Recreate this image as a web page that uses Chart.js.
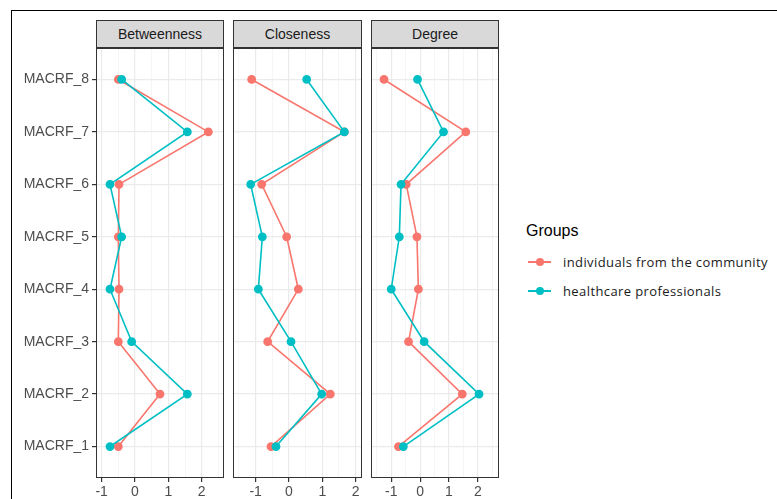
<!DOCTYPE html>
<html>
<head>
<meta charset="utf-8">
<script src="https://cdn.jsdelivr.net/npm/chart.js@4.4.1/dist/chart.umd.min.js"></script>
<style>
  body { margin: 0; background: #fff; width: 777px; height: 499px; overflow: hidden; position: relative; font-family: "Liberation Sans", Arial, sans-serif; }
  .frame { position: absolute; left: 11px; top: 10px; width: 900px; height: 700px; border-left: 1px solid #000; border-top: 1px solid #000; }
  .strip { position: absolute; top: 20px; height: 28px; background: #d9d9d9; border: 1px solid #333; box-sizing: border-box; text-align: center; line-height: 26px; font-size: 14px; color: #1a1a1a; }
  .box { position: absolute; top: 48px; height: 453px; }
  .legend { position: absolute; left: 526px; top: 222px; }
  .legend .title { font-size: 16px; color: #000; margin-bottom: 13px; }
  .legend .item { position: relative; height: 29px; line-height: 18px; font-family: "Open Sans", sans-serif; font-size: 13px; letter-spacing: 0.4px; color: #1a1a1a; padding-left: 37px; }
  .legend .key { position: absolute; left: 2px; top: 8px; width: 23px; height: 2px; }
  .legend .dot { position: absolute; left: 8px; top: -3px; width: 8px; height: 8px; border-radius: 50%; }
</style>
</head>
<body>
<div class="frame"></div>
<div id="wrap"></div>
<div class="legend" id="legend"></div>
<script>
// categories (bottom to top)
var categorias = ["MACRF_1", "MACRF_2", "MACRF_3", "MACRF_4", "MACRF_5", "MACRF_6", "MACRF_7", "MACRF_8"];
var medidas = ["Betweenness", "Closeness", "Degree"];
var grupos = ["individuals from the community", "healthcare professionals"];
var colores = ["#F8766D", "#00BFC4"];

// values per measure, MACRF_1 .. MACRF_8
var betweennessComunidad = [-0.5, 0.75, -0.5, -0.48, -0.5, -0.48, 2.2, -0.5];
var betweennessSalud     = [-0.75, 1.57, -0.1, -0.75, -0.4, -0.75, 1.57, -0.4];
var closenessComunidad   = [-0.54, 1.24, -0.64, 0.28, -0.07, -0.82, 1.66, -1.12];
var closenessSalud       = [-0.39, 0.98, 0.06, -0.92, -0.8, -1.15, 1.66, 0.53];
var degreeComunidad      = [-0.75, 1.46, -0.4, -0.06, -0.11, -0.48, 1.58, -1.25];
var degreeSalud          = [-0.58, 2.04, 0.14, -1.0, -0.72, -0.66, 0.81, -0.09];

// x axis limits per panel and tick values
var xMin = [-1.17, -1.68, -1.70];
var xMax = [2.67, 2.19, 2.73];
var xTicks = [-1.5, -1, -0.5, 0, 0.5, 1, 1.5, 2, 2.5];

var series = [
    [betweennessComunidad, betweennessSalud],
    [closenessComunidad, closenessSalud],
    [degreeComunidad, degreeSalud]
];

// panel pixel boxes
var paneles = [[96, 224], [233, 362], [371, 499]];

// panel border
var bordePanel = {
    id: 'bordePanel',
    afterDraw: function(chart) {
        var a = chart.chartArea, ctx = chart.ctx;
        ctx.save();
        ctx.strokeStyle = '#333333';
        ctx.lineWidth = 1;
        ctx.strokeRect(a.left + 0.5, a.top + 0.5, a.right - a.left - 1, a.bottom - a.top - 1);
        ctx.restore();
    }
};

function puntos(valores) {
    return valores.map(function(v, i) { return { x: v, y: i + 1 }; });
}

function crearPanel(i) {
    var primero = (i === 0);
    var padL = primero ? paneles[0][0] : 2;
    var padR = 2;
    var box = document.createElement('div');
    box.className = 'box';
    box.style.left = (paneles[i][0] - padL) + 'px';
    box.style.width = (paneles[i][1] - paneles[i][0] + padL + padR) + 'px';
    box.innerHTML = '<canvas></canvas>';
    document.getElementById('wrap').appendChild(box);

    var strip = document.createElement('div');
    strip.className = 'strip';
    strip.style.left = paneles[i][0] + 'px';
    strip.style.width = (paneles[i][1] - paneles[i][0]) + 'px';
    strip.textContent = medidas[i];
    document.body.appendChild(strip);

    var esEntero = function(v) { return Math.abs(v - Math.round(v)) < 1e-9; };

    new Chart(box.querySelector('canvas'), {
        type: 'scatter',
        data: {
            datasets: [
                { label: grupos[1], data: puntos(series[i][1]), borderColor: colores[1], backgroundColor: colores[1], showLine: true, borderWidth: 1.6, pointRadius: 3.6, pointHoverRadius: 3.6 },
                { label: grupos[0], data: puntos(series[i][0]), borderColor: colores[0], backgroundColor: colores[0], showLine: true, borderWidth: 1.6, pointRadius: 3.6, pointHoverRadius: 3.6 }
            ]
        },
        options: {
            responsive: true,
            maintainAspectRatio: false,
            animation: false,
            layout: { autoPadding: false, padding: { left: primero ? 0 : padL, right: padR, top: 0, bottom: 0 } },
            plugins: { legend: { display: false }, tooltip: { enabled: false } },
            scales: {
                x: {
                    type: 'linear',
                    min: xMin[i],
                    max: xMax[i],
                    afterBuildTicks: function(scale) {
                        scale.ticks = xTicks.filter(function(v) { return v >= xMin[i] && v <= xMax[i]; })
                            .map(function(v) { return { value: v }; });
                    },
                    afterFit: function(scale) { scale.height = 23; },
                    border: { display: false },
                    grid: {
                        color: function(c) { return esEntero(c.tick.value) ? '#ebebeb' : '#f2f2f2'; },
                        lineWidth: function(c) { return esEntero(c.tick.value) ? 1.2 : 0.8; },
                        tickColor: function(c) { return esEntero(c.tick.value) ? '#333333' : 'rgba(0,0,0,0)'; },
                        tickLength: 4
                    },
                    ticks: {
                        autoSkip: false,
                        maxRotation: 0,
                        padding: 2,
                        color: '#4d4d4d',
                        font: { family: 'Liberation Sans', size: 14 },
                        callback: function(v) { return esEntero(v) ? String(Math.round(v)) : ''; }
                    }
                },
                y: {
                    type: 'linear',
                    min: 0.4,
                    max: 8.6,
                    afterBuildTicks: function(scale) {
                        scale.ticks = categorias.map(function(c, k) { return { value: k + 1 }; });
                    },
                    afterFit: function(scale) {
                        scale.width = primero ? paneles[0][0] : 0;
                        scale.paddingTop = 0;
                        scale.paddingBottom = 0;
                    },
                    border: { display: false },
                    grid: {
                        color: '#ebebeb',
                        lineWidth: 1.2,
                        drawTicks: primero,
                        tickColor: '#333333',
                        tickLength: 4
                    },
                    ticks: {
                        display: primero,
                        autoSkip: false,
                        padding: 3,
                        color: '#4d4d4d',
                        font: { family: 'Liberation Sans', size: 14 },
                        callback: function(v) { return categorias[Math.round(v) - 1] || ''; }
                    }
                }
            }
        },
        plugins: [bordePanel]
    });
}

for (var p = 0; p < medidas.length; p++) crearPanel(p);

// legend
var leg = document.getElementById('legend');
var html = '<div class="title">Groups</div>';
grupos.forEach(function(g, k) {
    html += '<div class="item"><span class="key" style="background:' + colores[k] + '">' +
        '<span class="dot" style="background:' + colores[k] + '"></span></span>' + g + '</div>';
});
leg.innerHTML = html;
</script>
</body>
</html>
